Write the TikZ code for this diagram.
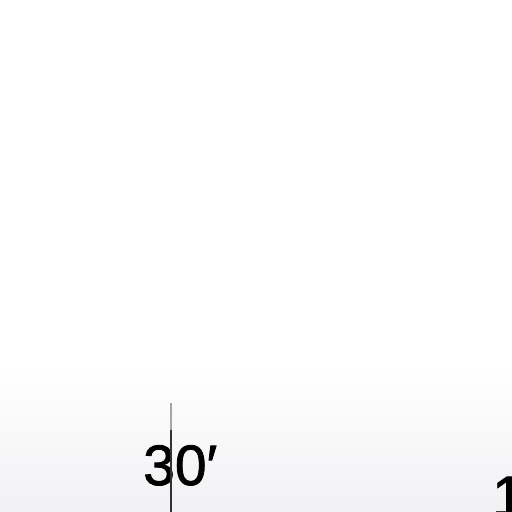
\documentclass[tikz,border=0pt]{standalone}
\usepackage{fontspec}
\setmainfont{Liberation Sans}
\newfontfamily\digitfont[FakeBold=1.4]{Liberation Sans}
\definecolor{tickdark}{RGB}{50, 50, 50}
\definecolor{ticklight}{RGB}{165, 165, 165}
\definecolor{bgfade}{RGB}{241, 241, 244}
\usetikzlibrary{positioning}

\begin{document}
\begin{tikzpicture}[x=1pt, y=1pt]
    \useasboundingbox (0,0) rectangle (512,512);
    \clip (0,0) rectangle (512,512);
    \fill[white] (0,0) rectangle (512,512);
    \shade[top color=white, bottom color=bgfade] (0,0) rectangle (512,150);
    \node[font=\digitfont\fontsize{57}{57}\selectfont, anchor=base west, inner sep=0pt] (ang) at (143,27) {30′};
    \node[font=\digitfont\fontsize{57}{57}\selectfont, anchor=base west, inner sep=0pt] (one) at (492,-4) {1};
    \coordinate (ttop) at (171,109);
    \coordinate (tmid) at (171,82);
    \coordinate (tbot) at (171,0);
    \draw[ticklight, line width=1.2pt] (ttop) -- (tmid);
    \draw[tickdark, line width=1.3pt] (tmid) -- (tbot);
\end{tikzpicture}
\end{document}
